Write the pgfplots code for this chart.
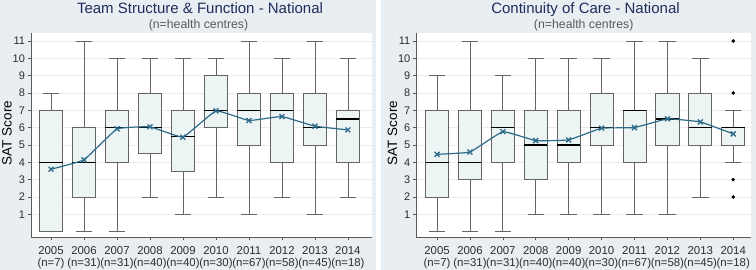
\documentclass[border=0pt]{standalone}
\usepackage{fontspec}
\setmainfont{Liberation Sans}
\usepackage{pgfplots}
\pgfplotsset{compat=1.18}
\usepgfplotslibrary{statistics}
\definecolor{bgcol}{RGB}{233,238,243}
\definecolor{boxfill}{RGB}{236,244,244}
\definecolor{boxdraw}{RGB}{100,100,100}
\definecolor{meancol}{RGB}{46,107,138}
\definecolor{titlecol}{RGB}{31,45,90}
\definecolor{subcol}{RGB}{90,90,90}
\definecolor{axcol}{RGB}{90,90,90}
\definecolor{tickcol}{RGB}{45,45,45}
\pgfplotsset{
  satbase/.style={
    scale only axis, height=204pt,
    ymin=-0.31, ymax=11.46,
    ytick={1,2,3,4,5,6,7,8,9,10,11},
    xtick={0,1,2,3,4,5,6,7,8,9},
    xticklabels={{2005\\(n=7)},{2006\\(n=31)},{2007\\(n=31)},{2008\\(n=40)},{2009\\(n=40)},{2010\\(n=30)},{2011\\(n=67)},{2012\\(n=58)},{2013\\(n=45)},{2014\\(n=18)}},
    axis x line*=bottom, axis y line*=left,
    axis line style={-, draw=axcol, line width=0.7pt},
    tick style={draw=axcol, line width=0.6pt},
    tick align=outside, major tick length=3pt,
    ymajorgrids, grid style={draw=gray!16, line width=0.4pt},
    axis background/.style={fill=white},
    /pgf/number format/assume math mode=true,
    yticklabel style={font=\fontsize{11}{11}\selectfont, text=tickcol, xshift=0.5pt},
    xticklabel style={font=\fontsize{11.4}{11.8}\selectfont, text=tickcol, align=center, yshift=-3.5pt},
    ylabel={SAT Score},
    ylabel style={font=\fontsize{13.5}{13.5}\selectfont, text=black, anchor=center},
    boxplot/draw direction=y,
    boxplot/box extend=0.7,
    boxplot/whisker extend=0.5,
    boxplot/every box/.style={draw=boxdraw, fill=boxfill, line width=0.8pt},
    boxplot/every whisker/.style={draw=boxdraw, line width=0.8pt},
    boxplot/every median/.style={draw=black, line width=1.4pt},
    meanline/.style={meancol, line width=1.2pt, smooth, tension=0.15, mark=x, mark size=3.5pt, mark options={line width=1.3pt, solid}},
  }
}
\newcommand{\bx}[6]{\addplot[boxplot prepared={draw position=#1, lower whisker=#2, lower quartile=#3, median=#4, upper quartile=#5, upper whisker=#6}] coordinates {};}
\begin{document}
\begin{tikzpicture}[x=1pt,y=1pt]
\useasboundingbox (0,0) rectangle (756,270);
\fill[bgcol] (0,0) rectangle (376,270);
\fill[bgcol] (381,0) rectangle (756,270);

\begin{axis}[satbase, at={(31pt,33pt)}, anchor=south west, width=341pt,
  xmin=-0.606, xmax=9.73,
  ylabel style={at={(axis description cs:-0.0705,0.51)}}]
\bx{0}{0}{0}{4}{7}{8}
\bx{1}{0}{2}{4}{6}{11}
\bx{2}{0}{4}{6}{7}{10}
\bx{3}{2}{4.5}{6}{8}{10}
\bx{4}{1}{3.5}{5.5}{7}{10}
\bx{5}{2}{6}{7}{9}{10}
\bx{6}{1}{5}{7}{8}{11}
\bx{7}{2}{4}{7}{8}{10}
\bx{8}{1}{5}{6}{8}{11}
\bx{9}{2}{4}{6.5}{7}{10}
\addplot[meanline] coordinates {(0,3.6) (1,4.14) (2,5.93) (3,6.05) (4,5.45) (5,6.97) (6,6.41) (7,6.64) (8,6.08) (9,5.87)};
\end{axis}

\begin{axis}[satbase, at={(416.3pt,33pt)}, anchor=south west, width=334.7pt,
  xmin=-0.63, xmax=9.54,
  ylabel style={at={(axis description cs:-0.0715,0.51)}}]
\bx{0}{0}{2}{4}{7}{9}
\bx{1}{0}{3}{4}{7}{11}
\bx{2}{0}{4}{6}{7}{9}
\bx{3}{1}{3}{5}{7}{10}
\bx{4}{1}{4}{5}{7}{10}
\bx{5}{1}{5}{6}{8}{10}
\bx{6}{1}{4}{7}{7}{11}
\bx{7}{1}{5}{6.5}{8}{11}
\bx{8}{2}{5}{6}{8}{10}
\bx{9}{4}{5}{6}{6}{7}
\addplot[only marks, mark=*, mark size=1.6pt, black] coordinates {(9,11) (9,8) (9,3) (9,2)};
\addplot[meanline] coordinates {(0,4.46) (1,4.59) (2,5.77) (3,5.25) (4,5.29) (5,5.97) (6,6.0) (7,6.51) (8,6.33) (9,5.64)};
\end{axis}

\node[anchor=base, text=titlecol, font=\fontsize{15}{15}\selectfont] at (200,256.7) {Team Structure \& Function - National};
\node[anchor=base, text=subcol, font=\fontsize{12.3}{12.3}\selectfont] at (198.5,241) {(n=health centres)};
\node[anchor=base, text=titlecol, font=\fontsize{15}{15}\selectfont] at (585.5,256.7) {Continuity of Care - National};
\node[anchor=base, text=subcol, font=\fontsize{12.3}{12.3}\selectfont] at (583.7,241) {(n=health centres)};
\end{tikzpicture}
\end{document}
